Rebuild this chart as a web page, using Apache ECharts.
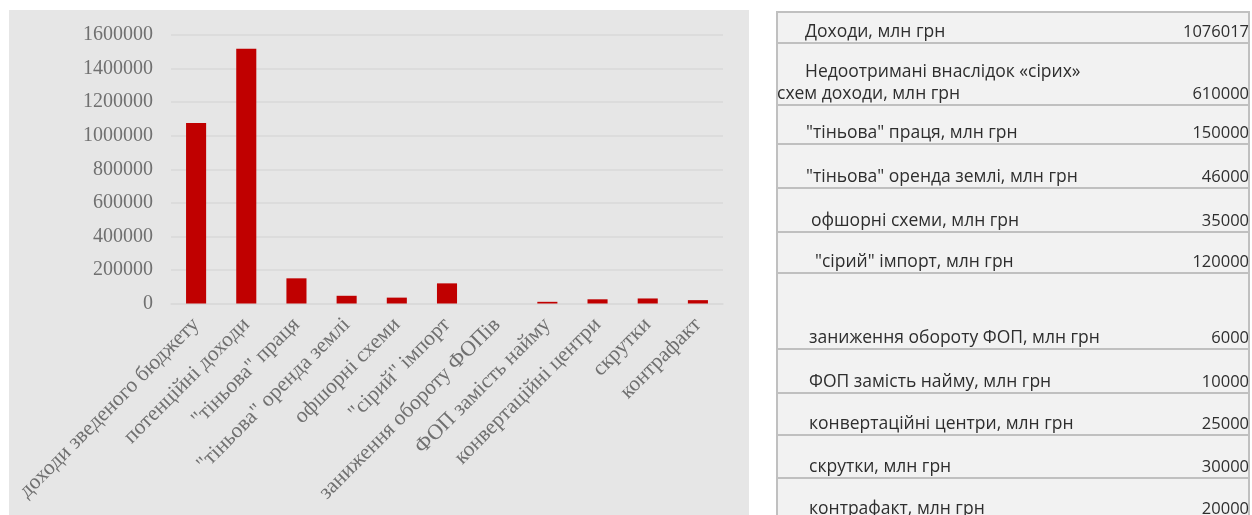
<!DOCTYPE html>
<html>
<head>
<meta charset="utf-8">
<script src="https://cdn.jsdelivr.net/npm/echarts@6/dist/echarts.min.js"></script>
<style>
  html, body { margin: 0; padding: 0; background: #fff; }
  #chart { width: 1252px; height: 515px; }
</style>
</head>
<body>
<div id="chart"></div>
<script>
  // chart data
  var categories = [
    'доходи зведеного бюджету',
    'потенційні доходи',
    '"тіньова" праця',
    '"тіньова" оренда землі',
    'офшорні схеми',
    '"сірий" імпорт',
    'заниження обороту ФОПів',
    'ФОП замість найму',
    'конвертаційні центри',
    'скрутки',
    'контрафакт'
  ]
  var values = [1076017, 1518017, 150000, 46000, 35000, 120000, 0, 10000, 25000, 30000, 20000]

  // table data
  var tableLabels = [
    ['Доходи, млн грн'],
    ['Недоотримані внаслідок «сірих»', 'схем доходи, млн грн'],
    ['"тіньова" праця, млн грн'],
    ['"тіньова" оренда землі, млн грн'],
    ['офшорні схеми, млн грн'],
    ['"сірий" імпорт, млн грн'],
    ['заниження обороту ФОП, млн грн'],
    ['ФОП замість найму, млн грн'],
    ['конвертаційні центри, млн грн'],
    ['скрутки, млн грн'],
    ['контрафакт, млн грн']
  ]
  var tableValues = ['1076017', '610000', '150000', '46000', '35000', '120000', '6000', '10000', '25000', '30000', '20000']

  // table layout
  var rowBottoms = [43, 105, 144, 188, 232, 273, 349, 393, 435, 478, 520]
  var rowIndent = [[805], [805, 777], [806], [806], [811], [815], [809], [809], [809], [809], [809]]

  var labelFont = '17.5px "Open Sans", sans-serif'
  var valueFont = '16.5px "Open Sans", sans-serif'
  var textColor = '#2e2e2e'
  var lineColor = '#c0c0c0'

  var graphics = [
    { type: 'rect', z: -10, shape: { x: 9, y: 10, width: 740, height: 520 }, style: { fill: '#e6e6e6' } },
    { type: 'rect', z: -10, shape: { x: 777, y: 12, width: 472, height: 520 }, style: { fill: '#f2f2f2', stroke: lineColor, lineWidth: 2 } }
  ]
  rowBottoms.forEach(function (yb, i) {
    if (i < rowBottoms.length - 1) {
      graphics.push({ type: 'line', shape: { x1: 777, y1: yb, x2: 1250, y2: yb }, style: { stroke: lineColor, lineWidth: 2 } })
    }
    var lines = tableLabels[i]
    lines.forEach(function (t, j) {
      var cy = yb - 11 - (lines.length - 1 - j) * 22
      graphics.push({ type: 'text', style: { text: t, x: rowIndent[i][j], y: cy, fill: textColor, font: labelFont, align: 'left', verticalAlign: 'middle' } })
    })
    graphics.push({ type: 'text', style: { text: tableValues[i], x: 1249, y: yb - 11, fill: textColor, font: valueFont, align: 'right', verticalAlign: 'middle' } })
  })

  var myChart = echarts.init(document.getElementById('chart'))
  var option = {
    backgroundColor: '#ffffff',
    animation: false,
    grid: { left: 171, right: 529, top: 35, bottom: 211.5, containLabel: false },
    xAxis: {
      type: 'category',
      data: categories,
      axisLine: { lineStyle: { color: '#d9d9d9', width: 1.5 } },
      axisTick: { show: false },
      axisLabel: {
        rotate: 45,
        interval: 0,
        margin: 18,
        color: '#707070',
        fontFamily: '"Liberation Serif", serif',
        fontSize: 21.5
      }
    },
    yAxis: {
      type: 'value',
      min: 0,
      max: 1600000,
      interval: 200000,
      axisLine: { show: false },
      axisTick: { show: false },
      splitLine: { lineStyle: { color: '#d9d9d9', width: 1.5 } },
      axisLabel: {
        margin: 18,
        color: '#707070',
        fontFamily: '"Liberation Serif", serif',
        fontSize: 20,
        formatter: function (v) { return String(v) }
      }
    },
    series: [{
      type: 'bar',
      data: values,
      barWidth: '40%',
      itemStyle: { color: '#c00000' }
    }],
    graphic: graphics
  }
  myChart.setOption(option)
</script>
</body>
</html>
